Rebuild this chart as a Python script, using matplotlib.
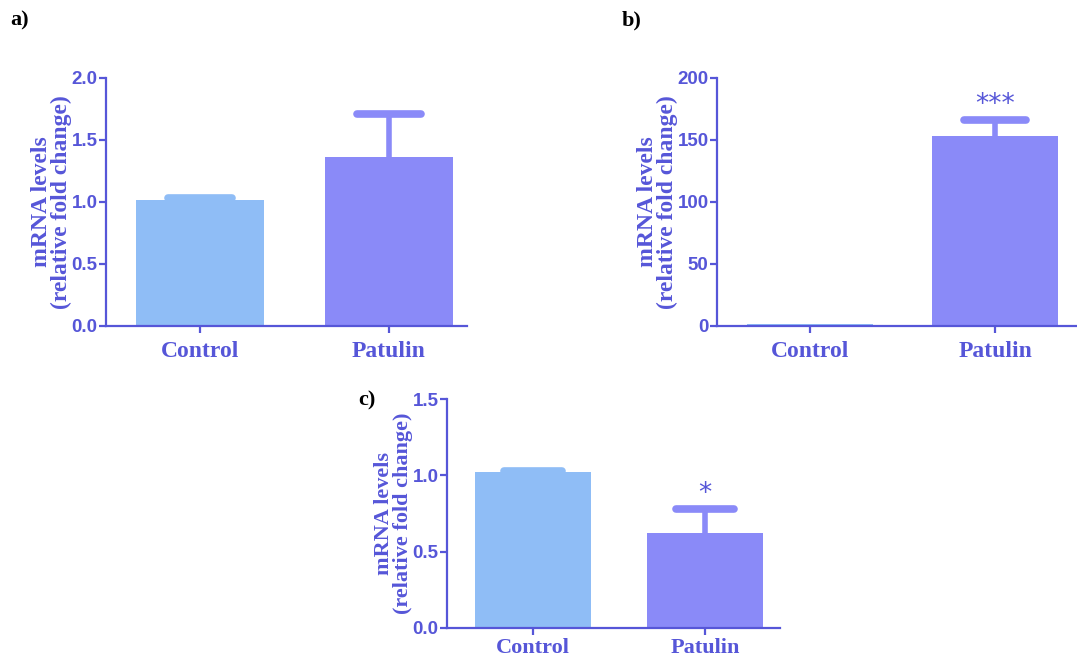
import matplotlib.pyplot as plt

groups = ["Control", "Patulin"]

a_means = [1.02, 1.36]
a_err = [0.01, 0.35]

b_means = [2.0, 153.0]
b_err = [0.0, 13.0]
b_stars = ["", "***"]

c_means = [1.02, 0.62]
c_err = [0.01, 0.16]
c_stars = ["", "*"]

bar_colors = ["#8fbdf6", "#8a8af8"]
axis_color = "#5656d8"

W, H = 1077, 662
fig = plt.figure(figsize=(W / 100, H / 100), dpi=100)


def panel(box, xlim, means, errs, ylim, yticks, ylabels, stars=None, star_off=0.0,
          label_size=17, xlab_size=17, xpad=6):
    left, top, right, bottom = box
    ax = fig.add_axes([left / W, 1 - bottom / H, (right - left) / W, (bottom - top) / H])
    x = range(len(groups))
    ax.bar(x, means, width=0.68, color=bar_colors)
    for xi, m, e, c in zip(x, means, errs, bar_colors):
        if e <= 0:
            continue
        ax.vlines(xi, m, m + e, color=c, linewidth=4)
        cap = ax.hlines(m + e, xi - 0.17, xi + 0.17, color=c, linewidth=5.5)
        cap.set_capstyle("round")
    if stars:
        for xi, m, e, s in zip(x, means, errs, stars):
            if s:
                ax.text(xi, m + e + star_off, s, ha="center", va="bottom",
                        color=axis_color, fontsize=19, family="DejaVu Sans")
    ax.set_xlim(*xlim)
    ax.set_ylim(*ylim)
    ax.set_yticks(yticks)
    ax.set_yticklabels(ylabels, family="Liberation Sans", fontweight="bold",
                       fontsize=13.5, color=axis_color)
    ax.set_xticks(list(x))
    ax.set_xticklabels(groups, family="Liberation Serif", fontweight="bold",
                       fontsize=xlab_size, color=axis_color)
    ax.set_ylabel("mRNA levels\n(relative fold change)", family="Liberation Serif",
                  fontweight="bold", fontsize=label_size, color=axis_color,
                  linespacing=0.9, labelpad=0)
    for side in ["top", "right"]:
        ax.spines[side].set_visible(False)
    for side in ["left", "bottom"]:
        ax.spines[side].set_color(axis_color)
        ax.spines[side].set_linewidth(1.6)
    ax.tick_params(colors=axis_color, width=1.6, length=5, pad=1)
    ax.tick_params(axis="x", pad=xpad)
    return ax


panel((106, 78, 467, 326), (-0.497, 1.413), a_means, a_err, (0, 2.0),
      [0, 0.5, 1.0, 1.5, 2.0], ["0.0", "0.5", "1.0", "1.5", "2.0"])
panel((717, 78, 1077, 326), (-0.503, 1.443), b_means, b_err, (0, 200),
      [0, 50, 100, 150, 200], ["0", "50", "100", "150", "200"], b_stars, 2)
panel((447, 399, 780, 628), (-0.5, 1.436), c_means, c_err, (0, 1.5),
      [0, 0.5, 1.0, 1.5], ["0.0", "0.5", "1.0", "1.5"], c_stars, 0.015,
      label_size=16, xlab_size=16, xpad=2)

for lab, px, py in [("a)", 10, 20), ("b)", 622, 20), ("c)", 358, 400)]:
    fig.text(px / W, 1 - py / H, lab, family="Liberation Serif", fontweight="bold",
             fontsize=16, color="black", va="center")

fig.savefig("out.png", dpi=100)
